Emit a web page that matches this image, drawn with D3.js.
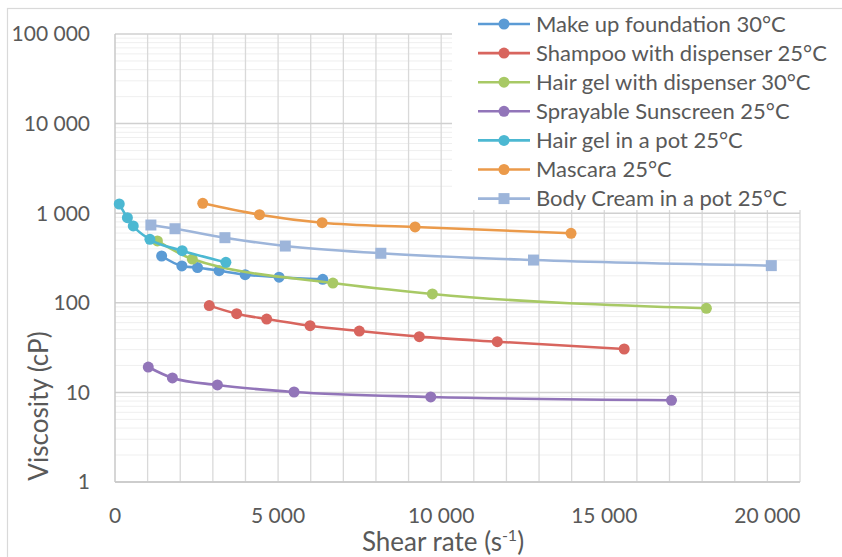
<!DOCTYPE html>
<html>
<head>
<meta charset="utf-8">
<script src="https://cdn.jsdelivr.net/npm/d3@7"></script>
<style>
  html, body { margin: 0; padding: 0; background: #fff; }
  svg { display: block; font-family: Lato, "Open Sans", sans-serif; }
</style>
</head>
<body>
<svg id="chart" width="842" height="557"></svg>
<script>
// ---- data ----
const seriesNames = [
  "Make up foundation 30°C",
  "Shampoo with dispenser 25°C",
  "Hair gel with dispenser 30°C",
  "Sprayable Sunscreen 25°C",
  "Hair gel in a pot 25°C",
  "Mascara 25°C",
  "Body Cream in a pot 25°C"
];
const seriesColors = ["#5b9bd5", "#d8655e", "#a8c965", "#9275b9", "#4cb8d2", "#eb9a4a", "#9db5da"];
const seriesMarkers = ["circle", "circle", "circle", "circle", "circle", "circle", "square"];

const makeupX  = [1430, 2050, 2530, 3190, 3990, 5030, 6370];
const makeupY  = [333, 258, 247, 228, 206, 193, 183];
const shampooX = [2890, 3730, 4650, 5980, 7490, 9330, 11720, 15610];
const shampooY = [93, 75.6, 65.9, 55.5, 48.4, 41.9, 36.8, 30.5];
const gelDispX = [1300, 2370, 6680, 9730, 18130];
const gelDispY = [490, 308, 166, 125.5, 86.8];
const sunX     = [1020, 1760, 3140, 5490, 9680, 17060];
const sunY     = [19.2, 14.5, 12.1, 10.1, 8.9, 8.17];
const gelPotX  = [130, 380, 560, 1070, 2060, 3400];
const gelPotY  = [1267, 891, 720, 511, 382, 283];
const mascaraX = [2690, 4430, 6350, 9200, 13980];
const mascaraY = [1289, 962, 783, 702, 597];
const creamX   = [1100, 1840, 3370, 5220, 8150, 12830, 20120];
const creamY   = [738, 671, 533, 430, 357, 300, 260];

const allX = [makeupX, shampooX, gelDispX, sunX, gelPotX, mascaraX, creamX];
const allY = [makeupY, shampooY, gelDispY, sunY, gelPotY, mascaraY, creamY];

const xTickValues = [0, 5000, 10000, 15000, 20000];
const yTickValues = [1, 10, 100, 1000, 10000, 100000];
const xTitle = "Shear rate (s";
const yTitle = "Viscosity (cP)";

// ---- layout ----
const svg = d3.select("#chart");
const plot = { left: 115, right: 800, top: 34, bottom: 482 };
const x = d3.scaleLinear().domain([0, 21000]).range([plot.left, plot.right]);
const y = d3.scaleLog().domain([1, 100000]).range([plot.bottom, plot.top]);
const fmt = v => d3.format(",")(v).replace(/,/g, " ");

// outer chart border (only top-left visible in the reference)
svg.append("rect").attr("x", 7.5).attr("y", 8.5).attr("width", 900).attr("height", 600)
  .attr("fill", "#fff").attr("stroke", "#d9d9d9").attr("stroke-width", 1.2);

const g = svg.append("g");

// minor horizontal gridlines
const minor = [];
for (let d = 1; d < 100000; d *= 10) for (let k = 2; k <= 9; k++) minor.push(d * k);
g.selectAll("line.minor").data(minor).join("line")
  .attr("x1", plot.left).attr("x2", plot.right)
  .attr("y1", d => y(d)).attr("y2", d => y(d))
  .attr("stroke", "#efefef").attr("stroke-width", 1);

// vertical gridlines every 1000
g.selectAll("line.vgrid").data(d3.range(1000, 21001, 1000)).join("line")
  .attr("y1", plot.top).attr("y2", plot.bottom)
  .attr("x1", d => x(d)).attr("x2", d => x(d))
  .attr("stroke", "#d9d9d9").attr("stroke-width", 1.3);

// major horizontal gridlines
g.selectAll("line.major").data(yTickValues).join("line")
  .attr("x1", plot.left).attr("x2", plot.right)
  .attr("y1", d => y(d)).attr("y2", d => y(d))
  .attr("stroke", "#d0d0d0").attr("stroke-width", 1.5);

// axis lines
g.append("line").attr("x1", plot.left).attr("x2", plot.left).attr("y1", plot.top).attr("y2", plot.bottom)
  .attr("stroke", "#c8c8c8").attr("stroke-width", 1.5);
g.append("line").attr("x1", plot.left).attr("x2", plot.right).attr("y1", plot.bottom).attr("y2", plot.bottom)
  .attr("stroke", "#c8c8c8").attr("stroke-width", 1.5);

// tick labels
svg.selectAll("text.ytick").data(yTickValues).join("text")
  .attr("x", 90).attr("y", d => y(d)).attr("dy", "0.35em")
  .attr("text-anchor", "end").attr("font-size", 21).attr("fill", "#595959")
  .text(fmt);
svg.selectAll("text.xtick").data(xTickValues).join("text")
  .attr("x", d => x(d)).attr("y", 523)
  .attr("text-anchor", "middle").attr("font-size", 21).attr("fill", "#595959")
  .text(fmt);

// axis titles
svg.append("text").attr("transform", "translate(48,406) rotate(-90)")
  .attr("text-anchor", "middle").attr("font-size", 26).attr("fill", "#595959").text(yTitle);
const xt = svg.append("text").attr("x", 443).attr("y", 551)
  .attr("text-anchor", "middle").attr("font-size", 26).attr("fill", "#595959");
xt.append("tspan").text(xTitle);
xt.append("tspan").attr("font-size", 16).attr("dy", -10).text("-1");
xt.append("tspan").attr("dy", 10).text(")");

// series
const line = d3.line().x(d => x(d[0])).y(d => y(d[1])).curve(d3.curveMonotoneX);
function drawMarker(sel, type, color, cx, cy) {
  if (type === "square") {
    sel.append("rect").attr("x", cx - 5.5).attr("y", cy - 5.5).attr("width", 11).attr("height", 11)
      .attr("fill", color);
  } else {
    sel.append("circle").attr("cx", cx).attr("cy", cy).attr("r", 5.5).attr("fill", color);
  }
}
const order = [6, 5, 0, 2, 4, 1, 3];
order.forEach(i => {
  const pts = allX[i].map((v, j) => [v, allY[i][j]]);
  const sg = svg.append("g");
  sg.append("path").attr("d", line(pts)).attr("fill", "none")
    .attr("stroke", seriesColors[i]).attr("stroke-width", 2.6);
  pts.forEach(p => drawMarker(sg, seriesMarkers[i], seriesColors[i], x(p[0]), y(p[1])));
});

// legend
svg.append("rect").attr("x", 452).attr("y", 10).attr("width", 385).attr("height", 200).attr("fill", "#fff");
const lg = svg.append("g");
seriesNames.forEach((name, i) => {
  const ly = 24 + i * 29.1;
  lg.append("line").attr("x1", 478).attr("x2", 530).attr("y1", ly).attr("y2", ly)
    .attr("stroke", seriesColors[i]).attr("stroke-width", 2.6);
  drawMarker(lg, seriesMarkers[i], seriesColors[i], 504, ly);
  lg.append("text").attr("x", 536).attr("y", ly).attr("dy", "0.35em")
    .attr("font-size", 22).attr("fill", "#595959").text(name);
});
</script>
</body>
</html>
